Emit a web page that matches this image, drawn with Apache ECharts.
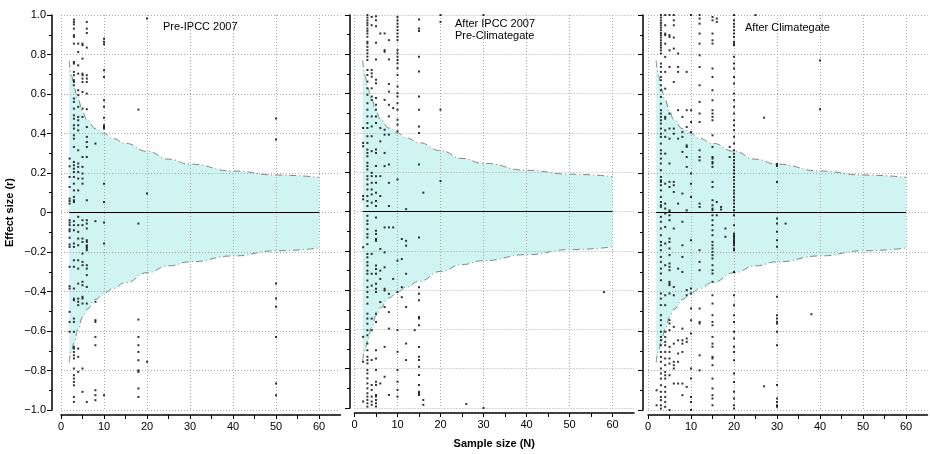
<!DOCTYPE html>
<html>
<head>
<meta charset="utf-8">
<title>Effect size vs sample size</title>
<script src="https://cdn.jsdelivr.net/npm/echarts@6/dist/echarts.min.js"></script>
<style>
  html, body { margin: 0; padding: 0; background: #fff; }
  #chart { width: 930px; height: 454px; }
</style>
</head>
<body>
<div id="chart"></div>
<script>
// funnel bounds
const funnelN     = [1.9, 2.5, 3, 4, 5, 6, 8, 10, 12, 15, 20, 25, 30, 40, 50, 60];
const funnelUpper = [0.77, 0.69, 0.63, 0.57, 0.51, 0.47, 0.425, 0.40, 0.375, 0.35, 0.31, 0.27, 0.245, 0.21, 0.19, 0.178];
const funnelLower = [-0.76, -0.70, -0.66, -0.59, -0.53, -0.49, -0.44, -0.41, -0.385, -0.355, -0.305, -0.27, -0.25, -0.22, -0.194, -0.18];

const panelTitles = ['Pre-IPCC 2007', 'After IPCC 2007\nPre-Climategate', 'After Climategate'];

// studies, grouped by sample size: [N, [r, r, ...]]
const preIpcc = [
  [2, [0.273, 0.234, 0.18, 0.129, 0.07, 0.058, 0.045, -0.039, -0.051, -0.064, -0.085, -0.095, -0.128, -0.162, -0.174, -0.275, -0.373, -0.385, -0.503, -0.554, -0.604]],
  [3, [0.977, 0.965, 0.953, 0.931, 0.898, 0.889, 0.855, 0.762, 0.754, 0.712, 0.695, 0.67, 0.661, 0.644, 0.577, 0.56, 0.526, 0.492, 0.475, 0.442, 0.425, 0.391, 0.374, 0.332, 0.256, 0.239, 0.222, 0.205, 0.18, 0.146, 0.112, 0.079, 0.062, 0.053, -0.044, -0.064, -0.09, -0.157, -0.174, -0.242, -0.275, -0.385, -0.436, -0.444, -0.537, -0.554, -0.604, -0.68, -0.689, -0.706, -0.723, -0.739, -0.79, -0.824, -0.841, -0.858, -0.875, -0.934, -0.959]],
  [4, [0.855, 0.813, 0.745, 0.703, 0.619, 0.594, 0.535, 0.484, 0.467, 0.442, 0.416, 0.315, 0.248, 0.231, 0.205, 0.172, 0.112, -0.022, -0.064, -0.098, -0.132, -0.166, -0.242, -0.284, -0.36, -0.436, -0.452, -0.469, -0.689, -0.731, -0.807]],
  [5, [0.855, 0.847, 0.779, 0.703, 0.695, 0.678, 0.661, 0.61, 0.526, 0.484, 0.281, 0.231, 0.197, 0.172, 0.146, -0.039, -0.064, -0.132, -0.149, -0.208, -0.25, -0.267, -0.351, -0.368, -0.427, -0.436, -0.461, -0.79, -0.908]],
  [6, [0.965, 0.931, 0.909, 0.835, 0.695, 0.678, 0.661, 0.602, 0.523, 0.433, 0.383, 0.357, 0.332, 0.281, 0.062, -0.039, -0.056, -0.081, -0.14, -0.149, -0.166, -0.174, -0.182, -0.191, -0.267, -0.284, -0.317, -0.377, -0.461, -0.959]],
  [8, [0.349, -0.044, -0.452, -0.545, -0.554, -0.63, -0.672, -0.9, -0.925, -0.95]],
  [10, [0.88, 0.864, 0.852, 0.72, 0.686, 0.568, 0.535, 0.48, 0.442, 0.433, 0.425, 0.146, 0.053, -0.051, -0.157, -0.925]],
  [18, [0.521, -0.056, -0.542, -0.63, -0.672, -0.706, -0.748, -0.799, -0.807, -0.891, -0.934]],
  [20, [0.982, 0.096, -0.756]],
  [50, [0.476, 0.37, -0.36, -0.435, -0.477, -0.63, -0.866, -0.925]]
];

const afterIpcc = [
  [2, [0.425, 0.349, 0.332, 0.079, 0.062, -0.182, -0.638, -0.765, -0.967]],
  [3, [1.0, 0.987, 0.973, 0.96, 0.948, 0.931, 0.919, 0.906, 0.889, 0.864, 0.855, 0.838, 0.821, 0.805, 0.788, 0.771, 0.72, 0.695, 0.661, 0.627, 0.594, 0.551, 0.518, 0.484, 0.45, 0.425, 0.383, 0.349, 0.315, 0.298, 0.281, 0.248, 0.231, 0.214, 0.18, 0.163, 0.138, 0.112, 0.079, 0.053, 0.028, -0.022, -0.047, -0.064, -0.09, -0.115, -0.132, -0.166, -0.216, -0.233, -0.258, -0.275, -0.301, -0.317, -0.351, -0.385, -0.41, -0.436, -0.469, -0.52, -0.545, -0.571, -0.604, -0.63, -0.672, -0.706, -0.739, -0.756, -0.773, -0.807, -0.824, -0.849, -0.875, -0.9, -0.925, -0.942, -0.959, -0.976, -0.993]],
  [4, [0.99, 0.948, 0.72, 0.703, 0.686, 0.627, 0.585, 0.568, 0.484, 0.433, 0.383, 0.307, 0.197, 0.18, 0.146, 0.112, 0.087, 0.045, -0.216, -0.317, -0.377, -0.545, -0.604, -0.756, -0.883, -0.908, -0.942, -0.967, -0.984]],
  [5, [0.994, 0.973, 0.943, 0.859, 0.774, 0.67, 0.653, 0.577, 0.543, 0.518, 0.484, 0.45, 0.315, 0.298, 0.231, 0.18, 0.146, 0.096, 0.053, 0.028, -0.031, -0.098, -0.115, -0.14, -0.149, -0.275, -0.292, -0.317, -0.368, -0.393, -0.41, -0.52, -0.562, -0.706, -0.748, -0.807, -0.866, -0.883, -0.934, -0.942, -0.959, -0.976, -0.993]],
  [6, [0.906, 0.425, 0.357, 0.18, 0.079, -0.191, -0.301, -0.343, -0.461, -0.875]],
  [7, [0.906, 0.821, 0.813, 0.568, 0.416, 0.391, 0.298, 0.231, -0.081, -0.208, -0.284, -0.393, -0.402, -0.486, -0.689, -0.841]],
  [8, [0.872, 0.774, 0.649, 0.61, 0.543, 0.484, 0.391, 0.239, 0.146, 0.028, -0.081, -0.419, -0.512, -0.596, -0.934]],
  [9, [0.526, -0.081, -0.343]],
  [10, [0.99, 0.973, 0.956, 0.94, 0.923, 0.906, 0.889, 0.872, 0.821, 0.805, 0.788, 0.771, 0.754, 0.729, 0.695, 0.636, 0.602, 0.585, 0.551, 0.518, 0.467, 0.442, 0.408, 0.163, -0.25, -0.41, -0.604, -0.714, -0.807, -0.866, -0.908, -0.942]],
  [11, [-0.14, -0.242, -0.385, -0.436]],
  [12, [0.012, -0.149, -0.174, -0.317, -0.486, -0.672, -0.756]],
  [14, [-0.604]],
  [15, [0.977, 0.931, 0.919, 0.788, 0.712, 0.585, 0.518, 0.433, 0.399, 0.239, -0.132, -0.385, -0.419, -0.452, -0.537, -0.545, -0.579, -0.689, -0.739, -0.756, -0.79, -0.832, -0.883, -0.917, -0.925, -0.934]],
  [16, [0.096, -0.959, -0.984]],
  [20, [1.0, 0.965, 0.518, 0.155]],
  [26, [-0.98]],
  [30, [1.0, -1.0]],
  [58, [-0.41]]
];

const afterClimategate = [
  [2, [-0.9, -0.976]],
  [3, [1.0, 0.987, 0.973, 0.96, 0.948, 0.936, 0.923, 0.909, 0.898, 0.886, 0.872, 0.859, 0.847, 0.835, 0.821, 0.805, 0.754, 0.737, 0.712, 0.686, 0.67, 0.644, 0.619, 0.585, 0.551, 0.518, 0.501, 0.484, 0.467, 0.45, 0.425, 0.399, 0.383, 0.349, 0.315, 0.298, 0.273, 0.248, 0.214, 0.18, 0.163, 0.155, 0.138, 0.112, 0.079, 0.053, 0.037, 0.029, -0.022, -0.047, -0.081, -0.115, -0.149, -0.166, -0.191, -0.225, -0.25, -0.284, -0.309, -0.343, -0.41, -0.436, -0.469, -0.52, -0.545, -0.571, -0.604, -0.63, -0.647, -0.672, -0.706, -0.731, -0.756, -0.79, -0.815, -0.841, -0.875, -0.908, -0.934, -0.95, -0.976, -0.993]],
  [4, [1.0, 0.948, 0.906, 0.898, 0.855, 0.788, 0.712, 0.627, 0.484, 0.475, 0.416, 0.383, 0.298, 0.146, 0.045, 0.02, -0.005, -0.073, -0.157, -0.267, -0.419, -0.469, -0.604, -0.63, -0.655, -0.672, -0.706, -0.739, -0.773, -0.807, -0.824, -0.841, -0.883, -0.908, -0.934, -0.959, -0.984]],
  [5, [1.0, 0.898, 0.889, 0.821, 0.737, 0.501, 0.425, 0.374, 0.248, 0.155, 0.129, 0.011, 0.003, -0.014, -0.039, -0.132, -0.149, -0.182, -0.216, -0.258, -0.275, -0.292, -0.351, -0.36, -0.368, -0.41, -0.545, -0.562, -0.596, -0.68, -0.706, -0.739, -0.765, -0.824, -1.0]],
  [6, [1.0, 0.973, 0.948, 0.886, 0.83, 0.661, 0.425, 0.399, 0.155, 0.138, 0.104, -0.081, -0.377, -0.419, -0.579, -0.664, -0.756, -0.773, -0.79, -0.866]],
  [7, [0.805, 0.737, 0.712, 0.518, 0.374, 0.045, -0.284, -0.647, -0.714, -0.756, -0.866]],
  [8, [0.484, 0.408, 0.383, 0.307, 0.096, -0.047, -0.166, -0.225, -0.301, -0.588, -0.647, -0.664, -0.706, -0.866, -0.925]],
  [9, [0.712, 0.518, 0.433, 0.34, 0.332, 0.281, 0.231, 0.011, -0.393, -0.419, -0.638, -0.655, -0.883]],
  [10, [1.0, 0.518, 0.458, 0.408, 0.197, 0.146, 0.079, -0.14, -0.385, -0.41, -0.486, -0.545, -0.613, -0.79, -0.841, -0.934, -0.959, -1.0]],
  [12, [1.0, 0.982, 0.956, 0.906, 0.855, 0.796, 0.737, 0.644, 0.56, 0.501, 0.458, 0.315, 0.281, 0.264, 0.045, 0.028, -0.191, -0.25, -0.292, -0.486, -0.554, -0.562, -0.723, -0.799]],
  [15, [0.99, 0.973, 0.906, 0.872, 0.855, 0.729, 0.686, 0.619, 0.568, 0.518, 0.501, 0.484, 0.467, 0.391, 0.332, 0.281, 0.273, 0.256, 0.248, 0.231, 0.155, 0.129, 0.062, 0.037, 0.02, 0.012, -0.014, -0.039, -0.064, -0.09, -0.115, -0.149, -0.166, -0.182, -0.199, -0.216, -0.233, -0.267, -0.292, -0.309, -0.351, -0.419, -0.461, -0.52, -0.554, -0.571, -0.63, -0.664, -0.68, -0.731, -0.739, -0.773, -0.841, -0.891, -0.925, -0.942, -0.976]],
  [16, [0.982, 0.965, 0.053, -0.014]],
  [17, [0.028, 0.015]],
  [18, [-0.081, -0.123]],
  [19, [0.332, 0.281]],
  [20, [1.0, 0.973, 0.956, 0.94, 0.923, 0.906, 0.889, 0.864, 0.855, 0.847, 0.788, 0.754, 0.729, 0.686, 0.653, 0.602, 0.568, 0.535, 0.501, 0.467, 0.442, 0.416, 0.383, 0.349, 0.315, 0.298, 0.281, 0.264, 0.248, 0.231, 0.214, 0.197, 0.18, 0.163, 0.146, 0.129, 0.112, 0.096, 0.079, 0.062, 0.045, 0.028, 0.011, -0.014, -0.064, -0.106, -0.115, -0.123, -0.132, -0.14, -0.149, -0.157, -0.166, -0.182, -0.191, -0.301, -0.419, -0.469, -0.52, -0.554, -0.604, -0.638, -0.68, -0.706, -0.748, -0.815, -0.858, -0.908, -0.942, -0.976, -0.993]],
  [25, [1.0]],
  [27, [0.48, -0.88]],
  [30, [0.245, 0.236, 0.155, -0.03, -0.056, -0.098, -0.14, -0.174, -0.427, -0.52, -0.537, -0.553, -0.562, -0.604, -0.672, -0.874, -0.942, -0.959, -0.976, -0.984]],
  [32, [-0.056]],
  [38, [-0.515]],
  [40, [0.77, 0.523]]
];

const panels = [preIpcc, afterIpcc, afterClimategate];

// layout
const FONT = 'Liberation Sans, Arial, Helvetica, sans-serif';
const panelLeft = [61, 354.5, 648];
const yAxisOffset = [9, 4.5, 5];
const titleTop = [21, 18, 22];

function toPairs(cols) {
  const out = [];
  cols.forEach(([n, rs]) => rs.forEach(r => out.push([n, r])));
  return out;
}

function fmtY(v) {
  const k = Math.round(v * 10);
  if (k === 0) return '0';
  return (k < 0 ? '\u2212' : '') + (Math.abs(k) / 10).toFixed(1);
}

const chart = echarts.init(document.getElementById('chart'), null, { renderer: 'canvas' });

const grid = [], xAxis = [], yAxis = [], series = [], title = [];

panels.forEach((cols, i) => {
  grid.push({ left: panelLeft[i], top: 15, width: 279.5, height: 395 });

  xAxis.push({
    gridIndex: i,
    type: 'value',
    min: 0,
    max: 65,
    interval: 5,
    offset: 5,
    z: 3,
    name: i === 1 ? 'Sample size (N)' : '',
    nameLocation: 'middle',
    nameGap: 25,
    nameTextStyle: { fontFamily: FONT, fontSize: 11, fontWeight: 'bold', color: '#000' },
    axisLine: { show: true, onZero: false, lineStyle: { color: '#000', width: 1.5 } },
    axisTick: { show: true, length: 4, lineStyle: { color: '#000', width: 1 } },
    axisLabel: {
      color: '#000', fontFamily: FONT, fontSize: 11, margin: 6,
      showMaxLabel: false,
      formatter: v => (v % 10 === 0 ? String(v) : '')
    },
    // grid lines only every 10
    splitLine: { show: true, lineStyle: { type: [1, 2], width: 1, color: ['#a8a8a8', 'rgba(0,0,0,0)'] } }
  });

  yAxis.push({
    gridIndex: i,
    type: 'value',
    min: -1,
    max: 1,
    interval: 0.2,
    offset: yAxisOffset[i],
    z: 3,
    name: i === 0 ? 'Effect size (r)' : '',
    nameLocation: 'middle',
    nameRotate: 90,
    nameGap: 37,
    nameTextStyle: { fontFamily: FONT, fontSize: 11, fontWeight: 'bold', color: '#000' },
    axisLine: { show: true, onZero: false, lineStyle: { color: '#000', width: 1.5 } },
    axisTick: { show: true, length: 5, lineStyle: { color: '#000', width: 1 } },
    minorTick: { show: true, splitNumber: 2, length: 3, lineStyle: { color: '#000', width: 1 } },
    axisLabel: { show: i === 0, color: '#000', fontFamily: FONT, fontSize: 11, margin: 6, formatter: fmtY },
    splitLine: { show: true, lineStyle: { type: [1, 2], width: 1, color: '#a8a8a8' } }
  });

  const funnelStyle = { color: '#7d8787', width: 1, type: [7, 3, 1, 3] };
  series.push({
    type: 'line', xAxisIndex: i, yAxisIndex: i, z: 1,
    data: funnelN.map((n, k) => [n, funnelUpper[k]]),
    smooth: true, smoothMonotone: 'x', symbol: 'none', silent: true,
    lineStyle: funnelStyle,
    areaStyle: { color: '#d0f4f2', opacity: 1, origin: 'auto' }
  });
  series.push({
    type: 'line', xAxisIndex: i, yAxisIndex: i, z: 1,
    data: funnelN.map((n, k) => [n, funnelLower[k]]),
    smooth: true, smoothMonotone: 'x', symbol: 'none', silent: true,
    lineStyle: funnelStyle,
    areaStyle: { color: '#d0f4f2', opacity: 1, origin: 'auto' }
  });
  series.push({
    type: 'line', xAxisIndex: i, yAxisIndex: i, z: 4,
    data: [[funnelN[0], 0], [funnelN[funnelN.length - 1], 0]],
    symbol: 'none', silent: true,
    lineStyle: { color: '#000', width: 1 }
  });
  series.push({
    type: 'scatter', xAxisIndex: i, yAxisIndex: i, z: 5,
    data: toPairs(cols),
    symbol: 'rect', symbolSize: 2,
    itemStyle: { color: '#000' }
  });

  title.push({
    text: panelTitles[i],
    left: [163, 455, 745][i],
    top: titleTop[i],
    padding: 0,
    textStyle: { fontFamily: FONT, fontSize: 11, fontWeight: 'normal', color: '#000', lineHeight: 12 }
  });
});

chart.setOption({
  animation: false,
  backgroundColor: '#fff',
  title: title,
  grid: grid,
  xAxis: xAxis,
  yAxis: yAxis,
  series: series
});
</script>
</body>
</html>
